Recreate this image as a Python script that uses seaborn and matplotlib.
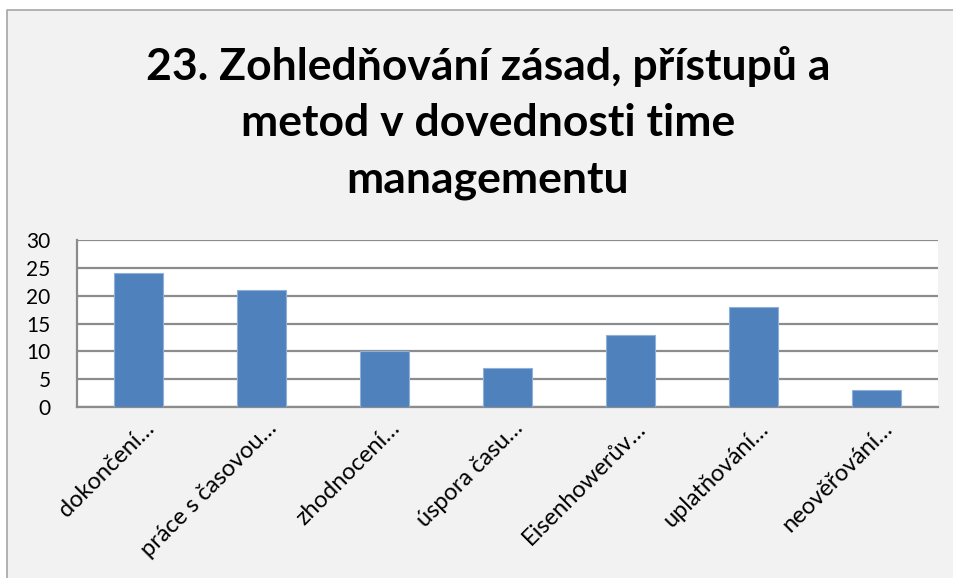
"""Bar chart: Zohledňování zásad, přístupů a metod v dovednosti time managementu."""
import matplotlib
matplotlib.use("Agg")
import matplotlib.transforms as mtransforms
import pandas as pd
import seaborn as sns
from matplotlib import pyplot as plt
from matplotlib.lines import Line2D
from matplotlib.patches import Rectangle

TITLE = "23. Zohledňování zásad, přístupů a\nmetod v dovednosti time\nmanagementu"
CATEGORIES = [
    "dokončení…",
    "práce s časovou…",
    "zhodnocení…",
    "úspora času…",
    "Eisenhowerův…",
    "uplatňování…",
    "neověřování…",
]
COUNTS = [24, 21, 10, 7, 13, 18, 3]
Y_TICKS = [0, 5, 10, 15, 20, 25, 30]

BAR_COLOR = "#4f81bd"
GRID_COLOR = "#8c8c8c"
PANEL_BG = "#f2f2f2"


def main() -> None:
    sns.set_theme(style="white")
    plt.rcParams["font.family"] = ["Lato", "DejaVu Sans"]

    df = pd.DataFrame({"category": CATEGORIES, "count": COUNTS})

    fig = plt.figure(figsize=(9.54, 5.78), dpi=100)
    fig.patch.set_facecolor("white")

    # grey chart panel with a border only on the left and top (rest is cropped)
    x0, y0 = 7 / 954, 1 - 10 / 578
    fig.patches.append(
        Rectangle((x0, 0), 1 - x0, y0, transform=fig.transFigure,
                  facecolor=PANEL_BG, edgecolor="none", zorder=-10)
    )
    fig.lines.append(Line2D([x0, x0, 1], [0, y0, y0], transform=fig.transFigure,
                            color="#a6a6a6", linewidth=1.2, zorder=-9))

    ax = fig.add_axes([77 / 954, 1 - 407 / 578, (938 - 77) / 954, (407 - 240) / 578])
    ax.set_facecolor("white")

    sns.barplot(data=df, x="category", y="count", color=BAR_COLOR, saturation=1,
                width=0.4, edgecolor="#8fb0d9", linewidth=0.8, ax=ax, zorder=3)

    ax.set_ylim(0, 30)
    ax.set_yticks(Y_TICKS)
    ax.set_yticklabels([str(v) for v in Y_TICKS], fontsize=15, color="black")
    ax.yaxis.grid(True, color=GRID_COLOR, linewidth=1.6, zorder=0)
    ax.set_axisbelow(True)
    ax.tick_params(axis="y", length=0, pad=19)
    ax.tick_params(axis="x", length=0, pad=13)

    ax.set_xticks(range(len(CATEGORIES)))
    ax.set_xticklabels(CATEGORIES, rotation=45, ha="right", va="center",
                       rotation_mode="anchor", fontsize=17, color="black")
    shift = mtransforms.ScaledTranslation(12 / 100, 0, fig.dpi_scale_trans)
    for lbl in ax.get_xticklabels():
        lbl.set_transform(lbl.get_transform() + shift)
    ax.set_xlabel("")
    ax.set_ylabel("")

    for side in ["top", "right"]:
        ax.spines[side].set_visible(False)
    for side in ["left", "bottom"]:
        ax.spines[side].set_color(GRID_COLOR)
        ax.spines[side].set_linewidth(1.6)

    fig.text(488 / 954, 1 - 123 / 578, TITLE, ha="center", va="center",
             fontsize=32, fontweight="bold", linespacing=1.49, color="black")

    fig.savefig("out.png", dpi=100, facecolor=fig.get_facecolor())
    plt.close(fig)


if __name__ == "__main__":
    main()
